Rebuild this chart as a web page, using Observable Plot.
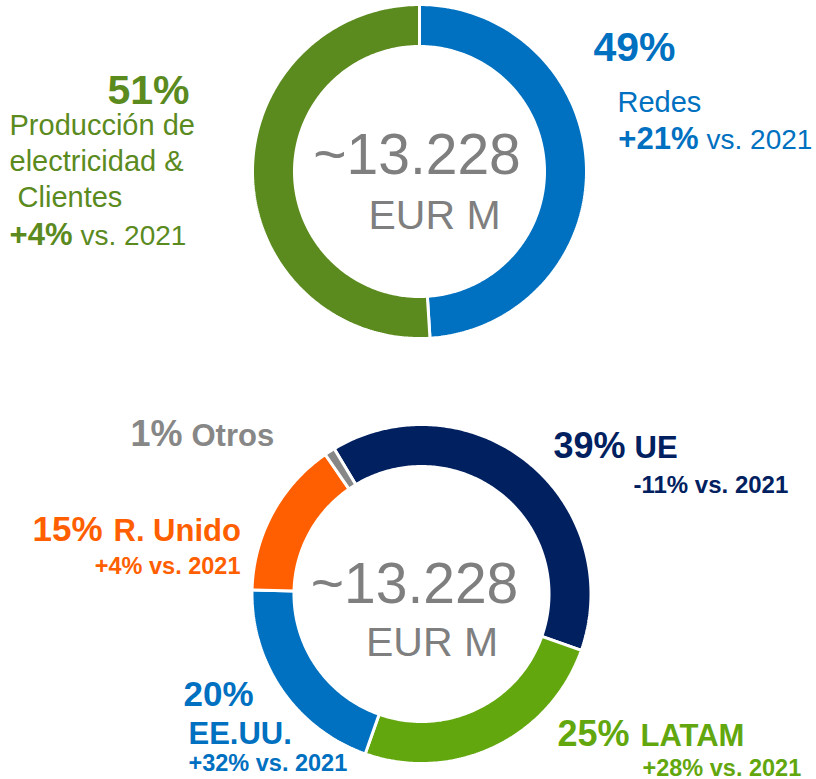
<!DOCTYPE html>
<html>
<head>
<meta charset="utf-8">
<script src="https://cdn.jsdelivr.net/npm/d3@7"></script>
<script src="https://cdn.jsdelivr.net/npm/@observablehq/plot@0.6"></script>
<style>
  html, body { margin: 0; padding: 0; background: #ffffff; }
  #chart svg { display: block; }
</style>
</head>
<body>
<div id="chart"></div>
<script>
// ---------------- DATA ----------------
const totalLabel = "~13.228";
const unitLabel = "EUR M";
const growthSuffix = "vs. 2021";

// Top donut: by business
const topCategories = ["Redes", "Producción de\nelectricidad &\n\u00a0Clientes"];
const topShares = [49, 51];
const topShareLabels = ["49%", "51%"];
const topGrowth = ["+21%", "+4%"];
const topColors = ["#0070C0", "#5B8A1E"];

// Bottom donut: by geography
const bottomCategories = ["UE", "LATAM", "EE.UU.", "R. Unido", "Otros"];
const bottomShares = [39, 25, 20, 15, 1];
const bottomShareLabels = ["39%", "25%", "20%", "15%", "1%"];
const bottomGrowth = ["-11%", "+28%", "+32%", "+4%", null];
const bottomColors = ["#002060", "#63A70F", "#0070C0", "#FF5F00", "#878787"];

// ---------------- LAYOUT ----------------
const W = 816, H = 779;
const FONT = "Liberation Sans, Arial, Helvetica, sans-serif";
const GREY = "#7F7F7F";
const donuts = {
  top:    {cx: 419.5, cy: 171.5, r0: 126.5, r1: 165.5, start: 0},
  bottom: {cx: 421.5, cy: 594,   r0: 129,   r1: 168,   start: -31}
};

function ring(name, cats, shares, colors) {
  const g = donuts[name];
  const total = d3.sum(shares);
  const out = [];
  let a = g.start;
  cats.forEach((c, i) => {
    const span = shares[i] / total * 360;
    const n = Math.max(3, Math.ceil(span / 0.75) + 1);
    for (let k = 0; k < n; k++) {
      const t = (a + span * k / (n - 1)) * Math.PI / 180;
      out.push({
        key: name + "-" + i,
        color: colors[i],
        ox: g.cx + (g.r1 + 1.5) * Math.sin(t),
        oy: g.cy - (g.r1 + 1.5) * Math.cos(t),
        ix: g.cx + (g.r0 - 1.5) * Math.sin(t),
        iy: g.cy - (g.r0 - 1.5) * Math.cos(t)
      });
    }
    a += span;
  });
  return out;
}

const segs = [
  ...ring("top", topCategories, topShares, topColors),
  ...ring("bottom", bottomCategories, bottomShares, bottomColors)
];

// label positions (x, baseline y)
const labels = [
  // centres
  {x: 416.5, y: 173, text: totalLabel, size: 57, color: GREY, weight: "normal", anchor: "middle"},
  {x: 434,   y: 228, text: unitLabel,  size: 41, color: GREY, weight: "normal", anchor: "middle"},
  {x: 414,   y: 602, text: totalLabel, size: 57, color: GREY, weight: "normal", anchor: "middle"},
  {x: 431.5, y: 655, text: unitLabel,  size: 41, color: GREY, weight: "normal", anchor: "middle"},
  // top right (Redes)
  {x: 593, y: 60,  text: topShareLabels[0], size: 41, color: topColors[0], weight: "bold", anchor: "start"},
  {x: 617, y: 111, text: topCategories[0],  size: 29, color: topColors[0], weight: "normal", anchor: "start"},
  {x: 698, y: 148, text: topGrowth[0],      size: 31, color: topColors[0], weight: "bold", anchor: "end"},
  {x: 706, y: 148, text: growthSuffix,      size: 28, color: topColors[0], weight: "normal", anchor: "start"},
  // top left (Producción)
  {x: 189, y: 103, text: topShareLabels[1], size: 41, color: topColors[1], weight: "bold", anchor: "end"},
  {x: 9,   y: 206, text: topCategories[1],  size: 29, color: topColors[1], weight: "normal", anchor: "start", multi: true},
  {x: 72,  y: 244, text: topGrowth[1],      size: 31, color: topColors[1], weight: "bold", anchor: "end"},
  {x: 80,  y: 244, text: growthSuffix,      size: 28, color: topColors[1], weight: "normal", anchor: "start"},
  // bottom: UE
  {x: 553, y: 457, text: bottomShareLabels[0], size: 36, color: bottomColors[0], weight: "bold", anchor: "start"},
  {x: 634, y: 457, text: bottomCategories[0],  size: 31, color: bottomColors[0], weight: "bold", anchor: "start"},
  {x: 633, y: 492, text: bottomGrowth[0] + " " + growthSuffix, size: 24, color: bottomColors[0], weight: "bold", anchor: "start"},
  // LATAM
  {x: 557, y: 745, text: bottomShareLabels[1], size: 36, color: bottomColors[1], weight: "bold", anchor: "start"},
  {x: 640, y: 745, text: bottomCategories[1],  size: 31, color: bottomColors[1], weight: "bold", anchor: "start"},
  {x: 642, y: 775, text: bottomGrowth[1] + " " + growthSuffix, size: 23.5, color: bottomColors[1], weight: "bold", anchor: "start"},
  // EE.UU.
  {x: 183, y: 705, text: bottomShareLabels[2], size: 35, color: bottomColors[2], weight: "bold", anchor: "start"},
  {x: 188, y: 743, text: bottomCategories[2],  size: 31, color: bottomColors[2], weight: "bold", anchor: "start"},
  {x: 188, y: 770, text: bottomGrowth[2] + " " + growthSuffix, size: 23.5, color: bottomColors[2], weight: "bold", anchor: "start"},
  // R. Unido
  {x: 32,  y: 540, text: bottomShareLabels[3], size: 35, color: bottomColors[3], weight: "bold", anchor: "start"},
  {x: 113, y: 540, text: bottomCategories[3],  size: 31, color: bottomColors[3], weight: "bold", anchor: "start"},
  {x: 240, y: 573, text: bottomGrowth[3] + " " + growthSuffix, size: 23.5, color: bottomColors[3], weight: "bold", anchor: "end"},
  // Otros
  {x: 130, y: 445, text: bottomShareLabels[4], size: 36, color: bottomColors[4], weight: "bold", anchor: "start"},
  {x: 191, y: 445, text: bottomCategories[4],  size: 31, color: bottomColors[4], weight: "bold", anchor: "start"}
];

function textMarks() {
  const groups = d3.groups(labels, d => d.weight + "|" + d.anchor + "|" + (d.multi ? "m" : "s"));
  return groups.map(([k, rows]) => {
    const [weight, anchor, m] = k.split("|");
    return Plot.text(rows, {
      x: "x", y: "y", text: "text",
      fill: "color", fontSize: "size",
      fontWeight: weight, textAnchor: anchor,
      fontFamily: FONT,
      lineAnchor: "bottom",
      lineHeight: m === "m" ? 1.24 : 1
    });
  });
}

const chart = Plot.plot({
  width: W, height: H,
  margin: 0,
  style: {fontFamily: FONT, background: "#ffffff"},
  x: {type: "linear", domain: [0, W], range: [0, W], axis: null},
  y: {type: "linear", domain: [0, H], range: [0, H], axis: null},
  color: {type: "identity"},
  marks: [
    Plot.area(segs, {
      x1: "ox", y1: "oy", x2: "ix", y2: "iy",
      z: "key", fill: "color",
      stroke: "#ffffff", strokeWidth: 3, strokeLinejoin: "miter"
    }),
    ...textMarks()
  ]
});

document.getElementById("chart").appendChild(chart);
</script>
</body>
</html>
